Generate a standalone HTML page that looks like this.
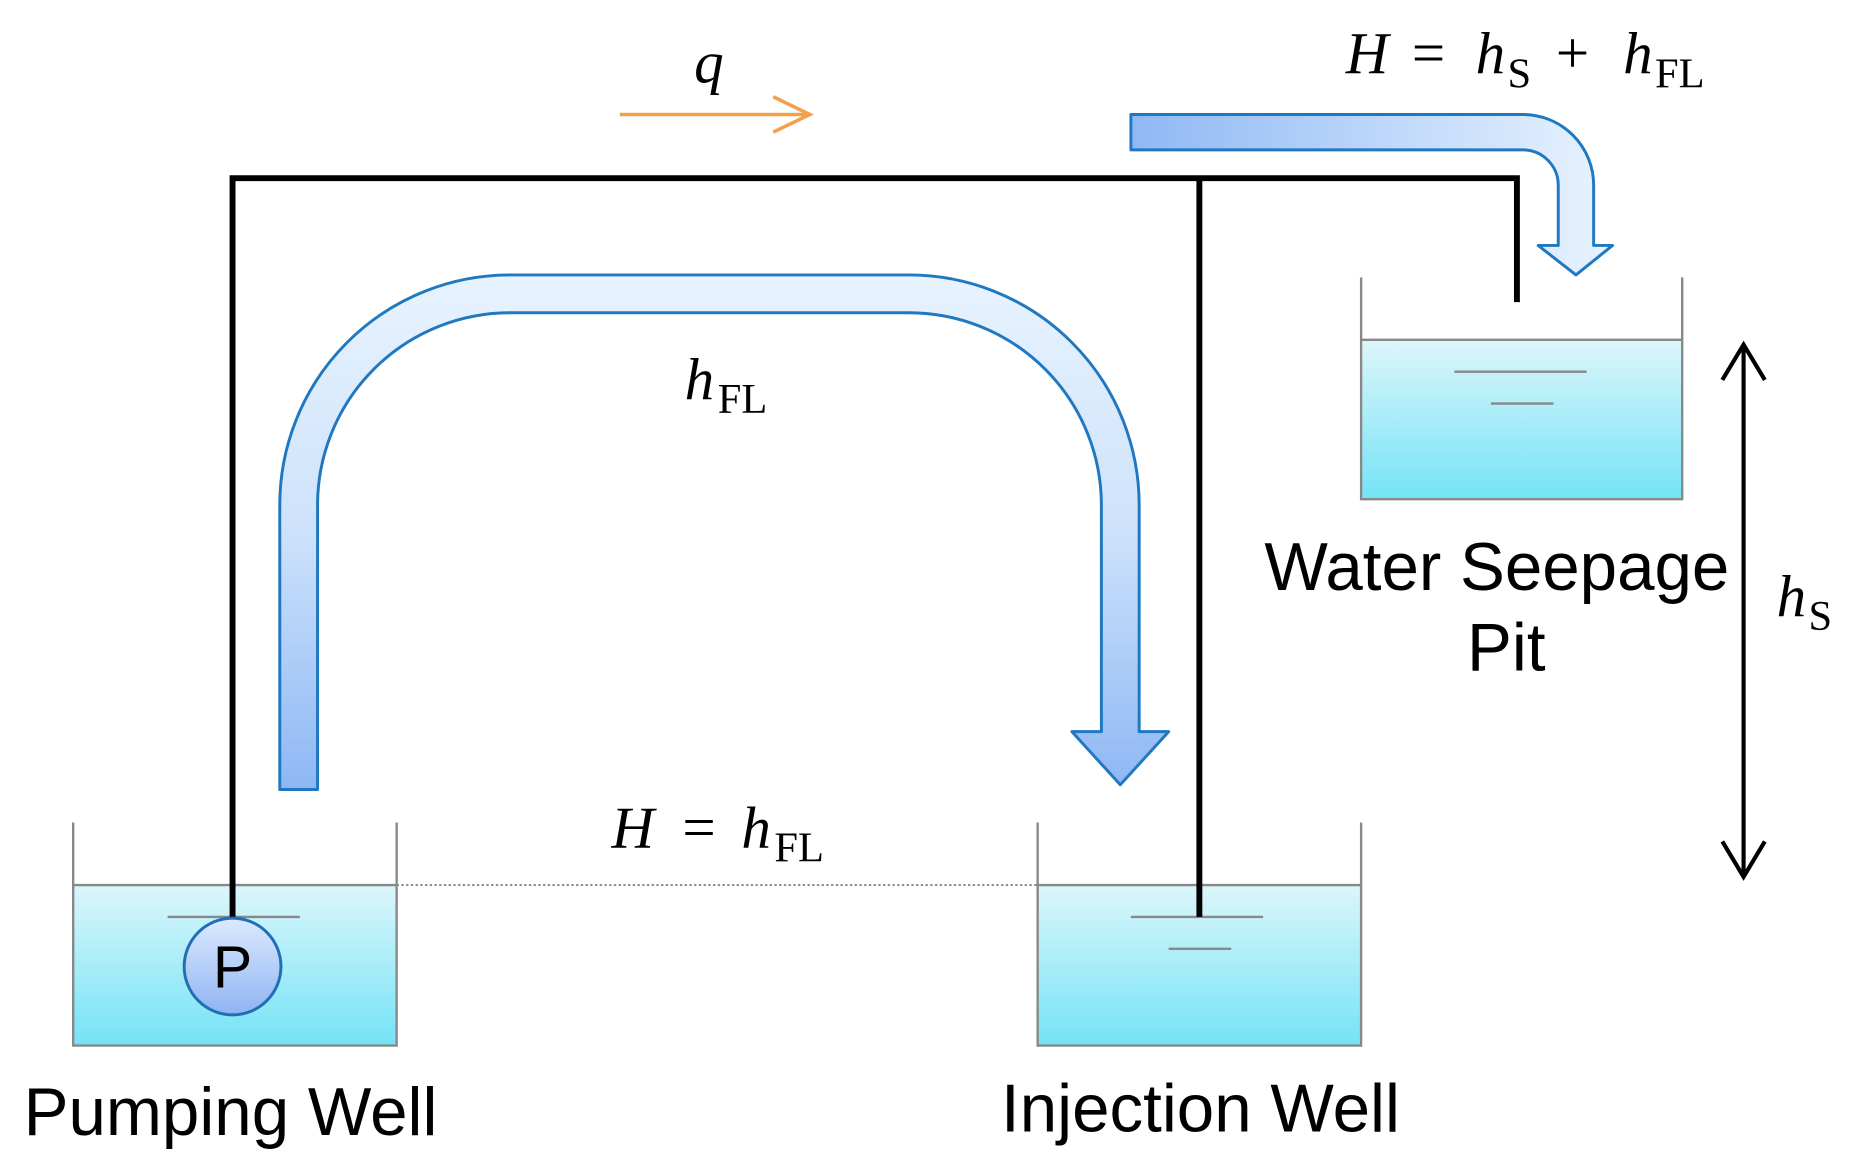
<!DOCTYPE html>
<html><head><meta charset="utf-8"><style>html,body{margin:0;padding:0;background:#fff}svg{display:block}</style></head>
<body>
<svg width="1851" height="1173" viewBox="0 0 1568 994" preserveAspectRatio="none" xmlns="http://www.w3.org/2000/svg">
<defs>
<linearGradient id="water" x1="0" y1="0" x2="0" y2="1"><stop offset="0" stop-color="#dcf6fb"/><stop offset="1" stop-color="#74e3f6"/></linearGradient>
<linearGradient id="big" x1="0" y1="0" x2="0" y2="1"><stop offset="0" stop-color="#e8f3ff"/><stop offset="0.5" stop-color="#cde2fb"/><stop offset="1" stop-color="#8db7f4"/></linearGradient>
<linearGradient id="small" x1="0" y1="0" x2="1" y2="0"><stop offset="0" stop-color="#8fb8f4"/><stop offset="1" stop-color="#e8f3ff"/></linearGradient>
<linearGradient id="pc" x1="0" y1="0" x2="0" y2="1"><stop offset="0" stop-color="#dceaff"/><stop offset="1" stop-color="#8fb4f2"/></linearGradient>
</defs>
<rect x="62" y="750" width="274" height="136" fill="url(#water)"/>
<rect x="879" y="750" width="274" height="136" fill="url(#water)"/>
<rect x="1153" y="288" width="272" height="135" fill="url(#water)"/>
<g stroke="#888" stroke-width="2" fill="none">
<polyline points="62,697 62,886 336,886 336,697"/>
<polyline points="879,697 879,886 1153,886 1153,697"/>
<polyline points="1153,235 1153,423 1425,423 1425,235"/>
<line x1="62" y1="750" x2="336" y2="750"/><line x1="879" y1="750" x2="1153" y2="750"/><line x1="1153" y1="288" x2="1425" y2="288"/>
<line x1="142" y1="777" x2="254" y2="777"/>
<line x1="958" y1="777" x2="1070" y2="777"/><line x1="990" y1="804" x2="1043" y2="804"/>
<line x1="1232" y1="315" x2="1344" y2="315"/><line x1="1263" y1="342" x2="1316" y2="342"/>
</g>
<line x1="336" y1="750" x2="879" y2="750" stroke="#888" stroke-width="1.5" stroke-dasharray="2,2"/>
<path d="M237,669 L237,428 A195,195 0 0 1 432,233 L770,233 A195,195 0 0 1 965,428 L965,620 L990,620 L949,665 L908,620 L933,620 L933,428 A163,163 0 0 0 770,265 L432,265 A163,163 0 0 0 269,428 L269,669 Z" fill="url(#big)" stroke="#1f78c0" stroke-width="2.5" stroke-linejoin="round"/>
<path d="M958,97 L1290,97 A60,60 0 0 1 1350,157 L1350,208 L1366,208 L1335,233 L1303,208 L1320,208 L1320,157 A30,30 0 0 0 1290,127 L958,127 Z" fill="url(#small)" stroke="#1f78c0" stroke-width="2.5" stroke-linejoin="round"/>
<g stroke="#000" stroke-width="5" fill="none">
<polyline points="197,778 197,151 1285,151 1285,256"/>
<line x1="1016" y1="151" x2="1016" y2="777"/>
</g>
<circle cx="197" cy="819" r="41" fill="url(#pc)" stroke="#1f6fb5" stroke-width="2.5"/>
<text x="197" y="837" font-family="Liberation Sans, sans-serif" font-size="50" text-anchor="middle">P</text>
<g stroke="#f4a04a" stroke-width="3" fill="none"><line x1="525" y1="97" x2="686" y2="97"/><polyline points="655,82 686,97 655,112"/></g>
<g stroke="#000" stroke-width="3.5" fill="none"><line x1="1477" y1="292" x2="1477" y2="743"/><polyline points="1459,322 1477,292 1495,322"/><polyline points="1459,713 1477,743 1495,713"/></g>
<g font-family="Liberation Serif, serif" font-size="50" fill="#000">
<text x="588" y="70" font-style="italic">q</text>
<text y="62"><tspan x="1140" font-style="italic">H</tspan><tspan x="1196">=</tspan><tspan x="1250" font-style="italic">h</tspan><tspan x="1277" font-size="36" dy="12">S</tspan><tspan x="1318" dy="-12">+</tspan><tspan x="1375" font-style="italic">h</tspan><tspan x="1402" font-size="36" dy="12">FL</tspan></text>
<text y="338"><tspan x="580" font-style="italic">h</tspan><tspan x="608" font-size="36" dy="12">FL</tspan></text>
<text y="718"><tspan x="518" font-style="italic">H</tspan><tspan x="578">=</tspan><tspan x="628" font-style="italic">h</tspan><tspan x="656" font-size="36" dy="12">FL</tspan></text>
<text y="522"><tspan x="1505" font-style="italic">h</tspan><tspan x="1532" font-size="36" dy="12">S</tspan></text>
</g>
<g font-family="Liberation Sans, sans-serif" font-size="57" fill="#000">
<text x="1268" y="500" text-anchor="middle">Water Seepage</text>
<text x="1276" y="568" text-anchor="middle">Pit</text>
<text x="20" y="962">Pumping Well</text>
<text x="848" y="959">Injection Well</text>
</g>
</svg>
</body></html>
